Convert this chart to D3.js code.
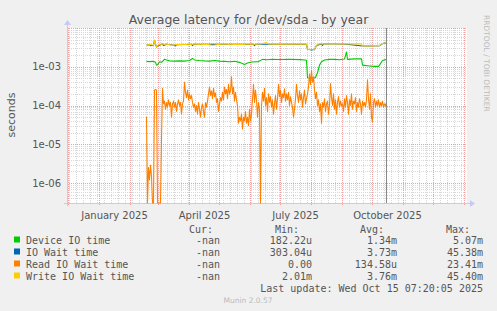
<!DOCTYPE html>
<html><head><meta charset="utf-8">
<script src="https://cdn.jsdelivr.net/npm/d3@7"></script>
<style>
html,body{margin:0;padding:0;background:#F0F0F0;}
svg{display:block;}
</style></head>
<body>
<script>
// ---------- data ----------
const title = "Average latency for /dev/sda - by year";
const yLabel = "seconds";
const yTickValues = [1e-3, 1e-4, 1e-5, 1e-6];
const yTickLabels = ["1e-03", "1e-04", "1e-05", "1e-06"];
const xTickDates = ["2025-01-16", "2025-04-16", "2025-07-16", "2025-10-16"];
const xTickLabels = ["January 2025", "April 2025", "July 2025", "October 2025"];
const seriesNames = ["Device IO time", "IO Wait time", "Read IO Wait time", "Write IO Wait time"];
const seriesColors = ["#00CC00", "#0066B3", "#FF8000", "#FFCC00"];
const curValues = ["-nan", "-nan", "-nan", "-nan"];
const minValues = ["182.22u", "303.04u", "0.00", "2.01m"];
const avgValues = ["1.34m", "3.73m", "134.58u", "3.76m"];
const maxValues = ["5.07m", "45.38m", "23.41m", "45.40m"];
const lastUpdate = "Last update: Wed Oct 15 07:20:05 2025";
const nowDate = "2025-10-15T07:20:05Z";
const dataStart = "2025-02-17T12:00:00Z";   // first daily sample

// Read IO Wait time, one value per day from dataStart
const readValues = [
  5.1e-5, 0, 2.5e-6, 1.2e-6, 2.9e-6, 1.5e-6, 0, 0, 2.5e-4, 2.6e-4, 2.5e-4, 0, 0, 0, 0, 1.3e-5, 2.8e-4,
  1.1e-4, 1.3e-4, 8e-5, 1.2e-4, 9e-5, 1.4e-4, 1e-4, 1.2e-4, 5e-5, 1.1e-4, 1.3e-4, 9e-5, 1.2e-4, 7e-5, 1.1e-4, 1.4e-4, 1e-4, 1.2e-4, 6e-5, 1.1e-4,
  1.3e-4, 4e-4, 2.2e-4, 1.6e-4, 2.5e-4, 1.4e-4, 2e-4, 1.5e-4, 1.8e-4, 1.2e-4,
  9e-5, 1.1e-4, 7e-5, 1e-4, 6e-5, 1.2e-4, 8e-5, 5e-5, 9e-5, 1.1e-4, 7e-5, 5e-5,
  1.2e-4, 9e-5, 1.3e-4, 2e-4, 3e-4, 1.8e-4, 2.4e-4, 1.5e-4, 2.8e-4, 1.7e-4, 2.1e-4, 1.2e-4, 1.5e-4, 7e-5, 1.1e-4, 1.6e-4, 1.3e-4, 2.2e-4, 1.4e-4,
  3e-4, 2e-4, 2.6e-4, 1.5e-4, 3.5e-4, 2e-4, 2.4e-4, 5.5e-4, 2e-4, 3e-4, 1.3e-4, 2.2e-4, 1.4e-4,
  1e-4, 3.5e-5, 5e-5, 4e-5, 6e-5, 2.5e-5, 5e-5, 4e-5, 7e-5, 3.5e-5, 5e-5, 3e-5, 8e-5, 4e-5, 6e-5,
  1.5e-4, 3.5e-4, 1.2e-4, 2.5e-4, 1.4e-4, 5e-5, 1.2e-4, 8e-5, 0, 1e-4,
  2.2e-4, 1.3e-4, 2.8e-4, 1e-4, 1.6e-4, 7e-5, 2e-4, 1.2e-4, 1.7e-4, 9e-5, 1.4e-4, 6e-5, 1.1e-4, 1.8e-4, 8e-5,
  1.5e-4, 3.5e-4, 1.7e-4, 2.5e-4, 1.2e-4, 2e-4, 1.6e-4, 2.7e-4, 1.3e-4, 2e-4, 1.4e-4, 2.2e-4, 1e-4, 1.7e-4, 1.2e-4, 9e-5, 5e-5, 8e-5,
  1.5e-4, 3.5e-4, 1.8e-4, 1.2e-4, 2.4e-4, 1.4e-4, 2e-4, 9e-5, 1.6e-4, 2.5e-4, 1.1e-4, 1.5e-4,
  2e-4, 3e-4, 6.5e-4, 3.5e-4, 8e-4, 4e-4, 5.5e-4, 2.5e-4,
  1.5e-4, 2.2e-4, 1e-4, 1.4e-4, 7e-5, 1.1e-4, 3.5e-5, 1.2e-4, 9e-5, 1.5e-4, 7e-5, 1.1e-4, 1.3e-4, 6e-5, 1e-4,
  3.7e-4, 1.6e-4, 1e-4, 2e-4, 8e-5, 1.4e-4, 6e-5, 1.2e-4, 1.7e-4, 9e-5, 1.3e-4, 1e-4,
  1.1e-4, 7e-5, 1.5e-4, 9e-5, 1.8e-4, 1.2e-4, 6e-5, 1.4e-4, 1e-4, 2e-4, 8e-5, 1.3e-4, 1.1e-4, 1.6e-4, 7e-5, 1.2e-4, 9e-5, 1.5e-4, 1.1e-4, 6e-5, 1.3e-4, 1e-4, 1.2e-4, 9e-5, 1.4e-4,
  4.6e-4, 1.5e-4, 8e-5, 2e-4, 5e-5, 3.8e-5, 1.2e-4,
  1.5e-4, 9e-5, 1.3e-4, 1e-4, 1.4e-4, 9e-5, 1.2e-4, 1e-4, 1.3e-4, 9e-5, 1.1e-4, 1e-4, 1.2e-4
];

// Device IO time: day offsets from dataStart and values
const deviceDays = [0, 3, 6, 8, 9, 10, 11, 13, 15, 17, 18, 20, 23, 28, 33, 38, 43, 46, 48, 53, 58, 63, 68, 73, 78, 83, 88, 93, 98, 101, 105, 112, 116, 120, 126, 133, 143, 153, 159, 160, 161, 165, 169, 171, 173, 175, 178, 183, 188, 193, 198, 200, 201, 208, 215, 216, 223, 228, 232, 233, 236, 240];
const deviceValues = [1.38e-3, 1.36e-3, 1.38e-3, 1.35e-3, 1.3e-3, 1.1e-3, 1.12e-3, 1.35e-3, 1.3e-3, 1.45e-3, 1.57e-3, 1.5e-3, 1.42e-3, 1.4e-3, 1.42e-3, 1.4e-3, 1.45e-3, 1.64e-3, 1.5e-3, 1.45e-3, 1.42e-3, 1.4e-3, 1.45e-3, 1.4e-3, 1.38e-3, 1.35e-3, 1.38e-3, 1.3e-3, 1.15e-3, 1.25e-3, 1.33e-3, 1.36e-3, 1.55e-3, 1.52e-3, 1.56e-3, 1.54e-3, 1.56e-3, 1.53e-3, 1.5e-3, 1.45e-3, 5.2e-4, 5e-4, 5.3e-4, 7e-4, 1.1e-3, 1.35e-3, 1.5e-3, 1.55e-3, 1.55e-3, 1.52e-3, 1.58e-3, 2.4e-3, 1.55e-3, 1.6e-3, 1.6e-3, 1.1e-3, 1.05e-3, 1.02e-3, 1.02e-3, 1.1e-3, 1.45e-3, 1.55e-3];

// Write IO Wait time
const writeDays = [0, 4, 7, 8, 9, 10, 11, 13, 16, 20, 26, 30, 36, 42, 48, 54, 60, 66, 72, 78, 84, 90, 96, 102, 108, 114, 120, 122, 130, 140, 150, 158, 160, 161, 165, 168, 170, 172, 180, 190, 200, 210, 215, 216, 225, 233, 236, 240];
const writeValues = [3.7e-3, 3.75e-3, 3.6e-3, 4.85e-3, 3.9e-3, 3.3e-3, 3.5e-3, 3.8e-3, 3.85e-3, 3.8e-3, 3.6e-3, 3.75e-3, 3.8e-3, 3.7e-3, 3.85e-3, 3.7e-3, 3.8e-3, 3.6e-3, 3.75e-3, 3.85e-3, 3.7e-3, 3.8e-3, 3.75e-3, 3.85e-3, 3.8e-3, 3.85e-3, 4.2e-3, 3.85e-3, 3.8e-3, 3.85e-3, 3.8e-3, 3.85e-3, 3.8e-3, 2.85e-3, 2.75e-3, 2.8e-3, 3.6e-3, 3.9e-3, 3.85e-3, 3.9e-3, 3.85e-3, 3.9e-3, 3.85e-3, 3.45e-3, 3.45e-3, 3.5e-3, 4.0e-3, 4.2e-3];

// IO Wait time (mostly hidden under Write IO Wait time)
const waitDays = [0, 3, 4, 7, 8, 9, 10, 11, 16, 17, 20, 28, 29, 30, 45, 46, 47, 60, 78, 90, 107, 108, 109, 122, 150, 160, 161, 165, 168, 170, 175, 176, 177, 190, 200, 216, 225, 233, 236, 240];
const waitValues = [3.65e-3, 3.7e-3, 3.5e-3, 3.6e-3, 4.8e-3, 3.85e-3, 3.25e-3, 3.45e-3, 3.85e-3, 3.55e-3, 3.8e-3, 3.6e-3, 3.45e-3, 3.7e-3, 3.8e-3, 3.5e-3, 3.8e-3, 3.78e-3, 3.82e-3, 3.78e-3, 3.8e-3, 3.5e-3, 3.8e-3, 3.82e-3, 3.78e-3, 3.78e-3, 2.82e-3, 2.72e-3, 2.78e-3, 3.55e-3, 3.85e-3, 3.55e-3, 3.85e-3, 3.85e-3, 3.82e-3, 3.42e-3, 3.42e-3, 3.48e-3, 3.95e-3, 4.15e-3];

// ---------- layout ----------
const W = 497, H = 311;
const L = 67, R = 467, T = 28, B = 203;
const svg = d3.select("body").append("svg").attr("width", W).attr("height", H)
  .style("font-family", "'DejaVu Sans', sans-serif");
svg.append("rect").attr("width", W).attr("height", H).attr("fill", "#F0F0F0");
svg.append("rect").attr("x", L).attr("y", T).attr("width", R - L).attr("height", B - T).attr("fill", "#FFFFFF");

const x = d3.scaleUtc().domain([new Date(Date.UTC(2024, 10, 30)), new Date(Date.UTC(2026, 0, 4))]).range([L, R]);
const yMin = 3.05e-7;
const y = d3.scaleLog().domain([yMin, 1e-2]).range([B, T]);

const t0 = new Date(dataStart);
const dayToDate = d => d3.utcDay.offset(t0, d);

// grid
const grid = svg.append("g").attr("shape-rendering", "crispEdges");
const minorY = [];
for (let e = -7; e <= -3; e++) for (let m = 2; m <= 9; m++) { const v = m * Math.pow(10, e); if (v > yMin && v < 1e-2) minorY.push(v); }
grid.selectAll(".hmin").data(minorY).join("line")
  .attr("x1", L).attr("x2", R).attr("y1", d => Math.round(y(d)) + 0.5).attr("y2", d => Math.round(y(d)) + 0.5)
  .attr("stroke", "#D8D8D8").attr("stroke-dasharray", "1,1");
const weeks = d3.utcMonday.range(x.domain()[0], x.domain()[1]);
grid.selectAll(".vmin").data(weeks).join("line")
  .attr("y1", T).attr("y2", B).attr("x1", d => Math.round(x(d)) + 0.5).attr("x2", d => Math.round(x(d)) + 0.5)
  .attr("stroke", "#D8D8D8").attr("stroke-dasharray", "1,1");
const majorY = [1e-2, 1e-3, 1e-4, 1e-5, 1e-6];
grid.selectAll(".hmaj").data(majorY).join("line")
  .attr("x1", L).attr("x2", R).attr("y1", d => Math.round(y(d)) + 0.5).attr("y2", d => Math.round(y(d)) + 0.5)
  .attr("stroke", "#F0A0A0").attr("stroke-dasharray", "1,1");
const months = d3.utcMonth.range(d3.utcMonth.ceil(x.domain()[0]), x.domain()[1]);
grid.selectAll(".vmaj").data(months).join("line")
  .attr("y1", T).attr("y2", B + 3).attr("x1", d => Math.round(x(d)) + 0.5).attr("x2", d => Math.round(x(d)) + 0.5)
  .attr("stroke", "#F0A0A0").attr("stroke-dasharray", "1,1");

// axes lines with arrows
const axisCol = "#C8C8F8";
svg.append("line").attr("x1", L - 3).attr("x2", R + 3).attr("y1", B + 0.5).attr("y2", B + 0.5).attr("stroke", axisCol);
svg.append("line").attr("x1", L + 0.5).attr("x2", L + 0.5).attr("y1", T - 3).attr("y2", B + 3).attr("stroke", axisCol);
svg.append("path").attr("d", `M${R + 3},${B - 3}L${R + 8},${B + 0.5}L${R + 3},${B + 4}Z`).attr("fill", axisCol);
svg.append("path").attr("d", `M${L - 3},${T - 3}L${L + 0.5},${T - 8}L${L + 4},${T - 3}Z`).attr("fill", axisCol);

// x axis labels
const xAxis = d3.axisBottom(x).tickValues(xTickDates.map(d => new Date(d + "T00:00:00Z")))
  .tickFormat((d, i) => xTickLabels[i]).tickSize(0).tickPadding(0);
const gx = svg.append("g").attr("transform", `translate(0,${B + 9})`).call(xAxis);
gx.select(".domain").remove();
gx.selectAll("text").attr("fill", "#555").attr("font-size", 10).attr("font-family", "'DejaVu Sans', sans-serif");

// y axis labels
const yAxis = d3.axisLeft(y).tickValues(yTickValues).tickFormat((d, i) => yTickLabels[i]).tickSize(0).tickPadding(0);
const gy = svg.append("g").attr("transform", `translate(${L - 6},0)`).call(yAxis);
gy.select(".domain").remove();
gy.selectAll("text").attr("fill", "#555").attr("font-size", 10).attr("font-family", "'DejaVu Sans', sans-serif");

// series
const clampV = v => Math.max(v, yMin);
const line = d3.line().x(d => x(d[0])).y(d => y(clampV(d[1])));
const plot = svg.append("g");
const deviceData = deviceDays.map((d, i) => [dayToDate(d), deviceValues[i]]);
const waitData = waitDays.map((d, i) => [dayToDate(d), waitValues[i]]);
const readData = readValues.map((v, i) => [dayToDate(i), v]);
const writeData = writeDays.map((d, i) => [dayToDate(d), writeValues[i]]);
[deviceData, waitData, readData, writeData].forEach((data, i) => {
  plot.append("path").datum(data).attr("d", line).attr("fill", "none")
    .attr("stroke", seriesColors[i]).attr("stroke-width", 1.1).attr("stroke-linejoin", "round");
});

// now line
const nx = Math.round(x(new Date(nowDate))) + 0.5;
svg.append("line").attr("x1", nx).attr("x2", nx).attr("y1", T).attr("y2", B).attr("stroke", "#888888");

// title
svg.append("text").attr("x", 248.5).attr("y", 23.5).attr("text-anchor", "middle")
  .attr("font-size", 12.5).attr("fill", "#555").text(title);
// y label
svg.append("text").attr("transform", `translate(15,115) rotate(-90)`).attr("text-anchor", "middle")
  .attr("font-size", 11).attr("fill", "#555").text(yLabel);
// rrdtool watermark
svg.append("text").attr("transform", `translate(484,15) rotate(90)`).attr("text-anchor", "start")
  .attr("font-size", 7.5).attr("fill", "#BBBBBB").text("RRDTOOL / TOBI OETIKER");

// legend
const mono = "'DejaVu Sans Mono', monospace";
const lg = svg.append("g").attr("font-family", mono).attr("font-size", 10).attr("fill", "#555");
const headerY = 233;
[["Cur:", 213], ["Min:", 299], ["Avg:", 384], ["Max:", 470]].forEach(([t, xx]) => {
  lg.append("text").attr("x", xx).attr("y", headerY).attr("text-anchor", "end").text(t);
});
seriesNames.forEach((name, i) => {
  const yy = 243.5 + i * 12;
  lg.append("rect").attr("x", 14).attr("y", yy - 7).attr("width", 6).attr("height", 6).attr("fill", seriesColors[i]);
  lg.append("text").attr("x", 26).attr("y", yy).text(name);
  lg.append("text").attr("x", 220).attr("y", yy).attr("text-anchor", "end").text(curValues[i]);
  lg.append("text").attr("x", 312).attr("y", yy).attr("text-anchor", "end").text(minValues[i]);
  lg.append("text").attr("x", 397).attr("y", yy).attr("text-anchor", "end").text(avgValues[i]);
  lg.append("text").attr("x", 483).attr("y", yy).attr("text-anchor", "end").text(maxValues[i]);
});
lg.append("text").attr("x", 483).attr("y", 291.5).attr("text-anchor", "end").text(lastUpdate);
svg.append("text").attr("x", 248).attr("y", 303).attr("text-anchor", "middle")
  .attr("font-size", 7.5).attr("fill", "#BBBBBB").text("Munin 2.0.57");
</script>
</body></html>
